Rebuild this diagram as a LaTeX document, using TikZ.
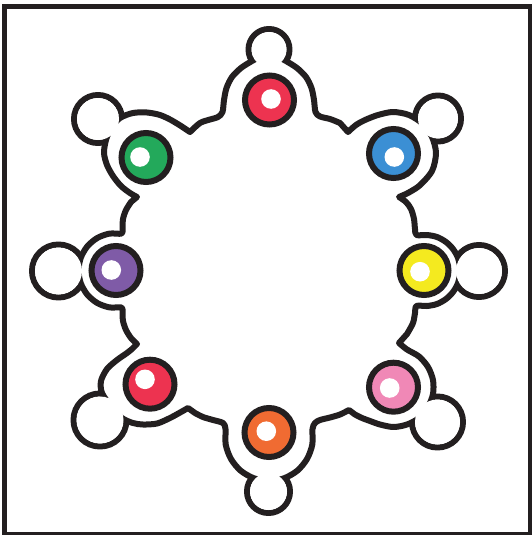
\documentclass[tikz,border=0pt]{standalone}
\definecolor{ink}{HTML}{231F20}
\definecolor{cred}{HTML}{ED3350}
\definecolor{cblue}{HTML}{3B8FD4}
\definecolor{cyellow}{HTML}{F4EA1F}
\definecolor{cpink}{HTML}{F088B6}
\definecolor{corange}{HTML}{F06B32}
\definecolor{cgreen}{HTML}{23A95B}
\definecolor{cpurple}{HTML}{7F5BA7}
\tikzset{
  outl/.style={draw=ink, line width=6pt, line join=round},
  ringdisc/.style={draw=ink, line width=6pt},
}
\newcommand\bodypath{%
 plot[smooth] coordinates {(190,132) (200,123) (210,119.5) (218,117) (222.5,112) (224,100) (226.5,88) (232,77) (241,68) (252,61) (260,57) (269,55) (278,57) (286,61) (297,68) (306,77) (311.5,88) (314,100) (315.5,112) (320,116.5) (330,119) (340,123)}
 --plot[smooth] coordinates {(348,132) (356,125) (365,120) (378,115) (393,112) (409,115) (423,124) (432,137) (436,153) (432,171) (419,186) (406,194)}
 --plot[smooth] coordinates {(399,197) (406,202) (411,209) (414,219) (415,229) (416.5,235) (427,235) (437,237) (446,242) (453,249) (458,258) (460.5,270.5) (458,283) (453,292) (446,299) (437,304) (427,306) (416.5,306) (415,313) (413,323) (407,334)}
 --plot[smooth] coordinates {(399,343) (407,349.5) (419,356.5) (428,367) (433,380) (433,394) (428,407) (419,418) (407,424.5) (393.5,427) (380,424.5) (370,421) (362,418) (355,414.5)}
 --plot[smooth] coordinates {(349,410) (340,414.5) (330,417.5) (320,420) (315,423) (312.5,429) (312.3,444.6) (307,459) (297.3,470.7) (284,478.3) (269,481) (254,478.3) (240.7,470.7) (231,459) (225.7,444.6) (225.5,429) (223,423) (213,420) (203,417) (195,413)}
 --plot[smooth] coordinates {(188,408) (181,412) (170,418) (157,423.5) (143,424.5) (133,423) (122,418) (111,406) (102,393) (101,381) (107,369) (117,360) (127,353) (132,349)}
 --plot[smooth] coordinates {(137,344) (131,338) (126,330) (123,321) (122.5,312) (121.5,307.5) (109.5,307.4) (97.25,303) (87.3,294.6) (80.8,283.3) (78.5,270.5) (80.8,257.7) (87.3,246.4) (97.25,238) (109.5,233.6) (121.5,233.6) (122.5,229) (123,219) (126,210) (131,202)}
 --plot[smooth] coordinates {(137,197) (130,193) (121,186) (113,176) (107,165) (104,153) (106,140) (111,128) (120,118) (133,113) (147,112.5) (160,115) (171,120) (181,126)}
 -- cycle}
\begin{document}
\begin{tikzpicture}[x=1pt,y=-1pt]
\useasboundingbox (0,0) rectangle (532,535);
\fill[white] (0,0) rectangle (532,535);
\draw[ink, line width=5.5pt] (4.5,6.3) rectangle (530.5,534.3);
% loops (outer rings)
\foreach \xx/\yy/\rr in {269/49.5/20.5, 438/118.5/23, 479/271/26, 437.5/422/25.5, 268.5/491.5/21.5, 100/420/26.5, 58.5/271/26.5, 98/119/24}
  \draw[outl] (\xx,\yy) circle[radius=\rr pt];
% central body
\filldraw[outl, fill=white] \bodypath;
% open the loops into the body
\foreach \xx/\yy/\rr in {269/49.5/20.5, 438/118.5/23, 479/271/26, 437.5/422/25.5, 268.5/491.5/21.5, 100/420/26.5, 58.5/271/26.5, 98/119/24}
  \fill[white] (\xx,\yy) circle[radius=\rr pt - 3pt];
% coloured discs
\foreach \name/\col/\cx/\cy/\dx/\dy in {top/cred/269.5/100/271/99, blue/cblue/393.5/153.5/394.3/157, yellow/cyellow/424/270.5/420/271.7, pink/cpink/393.5/387.2/389.7/388, orange/corange/269/432.5/266.3/431.2, bl/cred/150/384.2/145/379.3, purple/cpurple/116/270.5/111.3/270, green/cgreen/146/157.5/140/157}
{
  \coordinate (\name) at (\cx,\cy);
  \coordinate (\name dot) at (\dx,\dy);
  \draw[ringdisc, fill=\col] (\name) circle[radius=24.5pt];
  \fill[white] (\name dot) circle[radius=9.8pt];
}
\end{tikzpicture}
\end{document}
